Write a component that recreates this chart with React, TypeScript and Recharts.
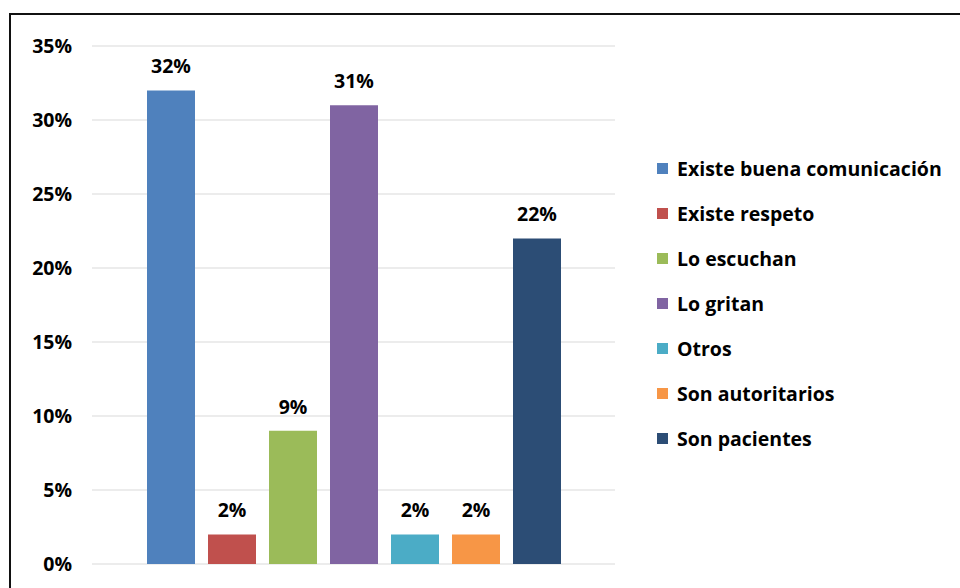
import { BarChart, Bar, XAxis, YAxis, CartesianGrid, LabelList } from 'recharts';

const SERIES = [
  'Existe buena comunicación',
  'Existe respeto',
  'Lo escuchan',
  'Lo gritan',
  'Otros',
  'Son autoritarios',
  'Son pacientes',
];
const VALUES = [0.32, 0.02, 0.09, 0.31, 0.02, 0.02, 0.22];
const COLORS = ['#4F81BD', '#C0504D', '#9BBB59', '#8064A2', '#4BACC6', '#F79646', '#2C4D75'];
const Y_TICKS = [0, 0.05, 0.1, 0.15, 0.2, 0.25, 0.3, 0.35];

const FONT = '"Open Sans", Lato, sans-serif';
const FS = 19.5;

const row: Record<string, string | number> = { name: '' };
SERIES.forEach((s, i) => {
  row[s] = VALUES[i];
});
const data = [row];

const pct = (v: number) => `${Math.round(v * 100)}%`;

function LegendBox() {
  return (
    <div
      style={{
        position: 'absolute',
        left: 657,
        top: 146,
        fontFamily: FONT,
        fontWeight: 700,
        fontSize: FS,
        color: '#000',
      }}
    >
      {SERIES.map((s, i) => (
        <div key={s} style={{ height: 45, display: 'flex', alignItems: 'center', whiteSpace: 'nowrap' }}>
          <span style={{ width: 11, height: 11, background: COLORS[i], display: 'inline-block', marginRight: 9 }} />
          {s}
        </div>
      ))}
    </div>
  );
}

export default function App() {
  return (
    <div style={{ position: 'absolute', left: 0, top: 0, width: 960, height: 588, overflow: 'hidden', background: '#fff' }}>
      <div
        style={{
          position: 'absolute',
          left: 9,
          top: 13,
          width: 1000,
          height: 640,
          borderTop: '2px solid #111',
          borderLeft: '2px solid #111',
        }}
      />
      <div style={{ position: 'absolute', left: 0, top: 0 }}>
        <BarChart
          width={960}
          height={588}
          data={data}
          margin={{ top: 46, right: 345, bottom: 24, left: 22 }}
          barSize={48}
          barGap={13}
        >
          <CartesianGrid vertical={false} stroke="#d9d9d9" />
          <XAxis dataKey="name" hide />
          <YAxis
            width={70}
            domain={[0, 0.35]}
            ticks={Y_TICKS}
            tickFormatter={pct}
            axisLine={false}
            tickLine={false}
            tickMargin={14}
            tick={{ fill: '#000', fontFamily: FONT, fontWeight: 700, fontSize: FS }}
          />
          {SERIES.map((s, i) => (
            <Bar key={s} dataKey={s} fill={COLORS[i]} isAnimationActive={false}>
              <LabelList
                dataKey={s}
                position="top"
                offset={17}
                formatter={(v: number) => pct(v)}
                style={{ fill: '#000', fontFamily: FONT, fontWeight: 700, fontSize: FS }}
              />
            </Bar>
          ))}
        </BarChart>
      </div>
      <LegendBox />
    </div>
  );
}
